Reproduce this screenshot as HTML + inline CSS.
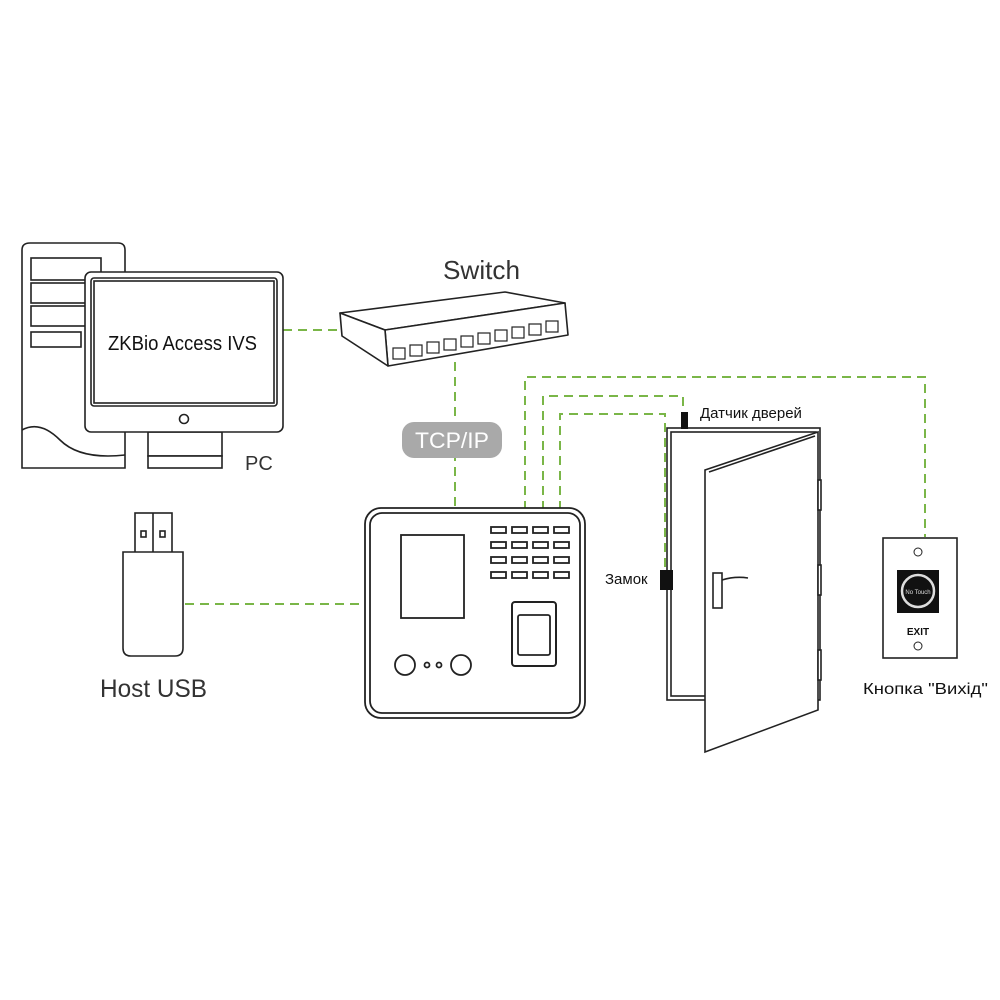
<!DOCTYPE html>
<html><head><meta charset="utf-8"><style>
html,body{margin:0;padding:0;background:#fff;}
svg{display:block;}
text{font-family:"Liberation Sans","DejaVu Sans",sans-serif;}
</style></head><body>
<svg width="1000" height="1000" viewBox="0 0 1000 1000" xmlns="http://www.w3.org/2000/svg">
<g fill="none" stroke="#7ab648" stroke-width="2" stroke-dasharray="9,6">
<path d="M283 330 H340"/>
<path d="M455 362 V510"/>
<path d="M185 604 H365"/>
<path d="M525 510 V377 H925 V537"/>
<path d="M543 510 V396 H683 V412"/>
<path d="M560 510 V414 H665 V570"/>
</g>
<!-- tower -->
<g fill="#fff" stroke="#222" stroke-width="1.6">
<path d="M22 468 V250 Q22 243 30 243 H118 Q125 243 125 250 V468 Z"/>
<rect x="31" y="258" width="70" height="22"/>
<rect x="31" y="283" width="70" height="20"/>
<rect x="31" y="306" width="70" height="20"/>
<rect x="31" y="332" width="50" height="15"/>
<path d="M22 430 Q40 420 60 440 Q80 460 125 455" />
</g>
<!-- monitor -->
<g fill="#fff" stroke="#222" stroke-width="1.6">
<rect x="148" y="432" width="74" height="24"/>
<rect x="148" y="456" width="74" height="12"/>
<rect x="85" y="272" width="198" height="160" rx="6"/>
<rect x="91" y="278" width="186" height="128" rx="3"/>
<rect x="94" y="281" width="180" height="122"/>
<circle cx="184" cy="419" r="4.5"/>
</g>
<text x="108" y="350" font-size="20" fill="#111" textLength="149" lengthAdjust="spacingAndGlyphs">ZKBio Access IVS</text>
<text x="245" y="470" font-size="20" fill="#333">PC</text>
<!-- switch -->
<text x="443" y="279" font-size="26" fill="#333" textLength="77" lengthAdjust="spacingAndGlyphs">Switch</text>
<g fill="#fff" stroke="#222" stroke-width="1.6" stroke-linejoin="round">
<path d="M340 313 L505 292 L565 303 L385 330 Z"/>
<path d="M385 330 L565 303 L568 335 L388 366 Z"/>
<path d="M340 313 L385 330 L388 366 L342 336 Z"/>
</g>
<g fill="#fff" stroke="#222" stroke-width="1.2">
<rect x="393" y="348" width="12" height="11"/>
<rect x="410" y="345" width="12" height="11"/>
<rect x="427" y="342" width="12" height="11"/>
<rect x="444" y="339" width="12" height="11"/>
<rect x="461" y="336" width="12" height="11"/>
<rect x="478" y="333" width="12" height="11"/>
<rect x="495" y="330" width="12" height="11"/>
<rect x="512" y="327" width="12" height="11"/>
<rect x="529" y="324" width="12" height="11"/>
<rect x="546" y="321" width="12" height="11"/>
</g>
<!-- TCP/IP -->
<rect x="402" y="422" width="100" height="36" rx="12" fill="#a9a9a9"/>
<text x="452" y="448" font-size="22" fill="#fff" text-anchor="middle" textLength="74" lengthAdjust="spacingAndGlyphs">TCP/IP</text>
<!-- USB -->
<g fill="#fff" stroke="#222" stroke-width="1.6">
<rect x="135" y="513" width="37" height="40"/>
<rect x="141" y="531" width="5" height="6"/>
<rect x="160" y="531" width="5" height="6"/>
<path d="M153 513 V553"/>
<path d="M123 552 H183 V648 Q183 656 175 656 H131 Q123 656 123 648 Z"/>
</g>
<text x="100" y="697" font-size="25" fill="#333" textLength="107" lengthAdjust="spacingAndGlyphs">Host USB</text>
<!-- device -->
<g fill="#fff" stroke="#222" stroke-width="1.8">
<rect x="365" y="508" width="220" height="210" rx="16"/>
<rect x="370" y="513" width="210" height="200" rx="12"/>
<rect x="401" y="535" width="63" height="83"/>
<rect x="512" y="602" width="44" height="64" rx="3" stroke-width="2"/>
<rect x="518" y="615" width="32" height="40" rx="2"/>
<circle cx="405" cy="665" r="10"/>
<circle cx="461" cy="665" r="10"/>
<circle cx="427" cy="665" r="2.5"/>
<circle cx="439" cy="665" r="2.5"/>
</g>
<g fill="#fff" stroke="#222" stroke-width="1.8">
<rect x="491" y="527" width="15" height="6"/><rect x="512" y="527" width="15" height="6"/><rect x="533" y="527" width="15" height="6"/><rect x="554" y="527" width="15" height="6"/>
<rect x="491" y="542" width="15" height="6"/><rect x="512" y="542" width="15" height="6"/><rect x="533" y="542" width="15" height="6"/><rect x="554" y="542" width="15" height="6"/>
<rect x="491" y="557" width="15" height="6"/><rect x="512" y="557" width="15" height="6"/><rect x="533" y="557" width="15" height="6"/><rect x="554" y="557" width="15" height="6"/>
<rect x="491" y="572" width="15" height="6"/><rect x="512" y="572" width="15" height="6"/><rect x="533" y="572" width="15" height="6"/><rect x="554" y="572" width="15" height="6"/>
</g>
<!-- door -->
<g fill="#fff" stroke="#222" stroke-width="1.6">
<rect x="667" y="428" width="153" height="272"/>
<rect x="671" y="432" width="145" height="264"/>
<path d="M705 470 L818 432 L818 710 L705 752 Z"/>
<path d="M709 472 L815 436"/>
<rect x="713" y="573" width="9" height="35"/>
<path d="M722 580 Q735 576 748 578"/>
<rect x="818" y="480" width="3" height="30"/><rect x="818" y="565" width="3" height="30"/><rect x="818" y="650" width="3" height="30"/>
</g>
<rect x="681" y="412" width="7" height="17" fill="#111"/>
<rect x="660" y="570" width="13" height="20" fill="#111"/>
<text x="700" y="418" font-size="15" fill="#111">Датчик дверей</text>
<text x="605" y="584" font-size="15" fill="#111">Замок</text>
<!-- exit button -->
<rect x="883" y="538" width="74" height="120" fill="#fff" stroke="#222" stroke-width="1.6"/>
<circle cx="918" cy="552" r="4" fill="#fff" stroke="#222"/>
<circle cx="918" cy="646" r="4" fill="#fff" stroke="#222"/>
<rect x="897" y="570" width="42" height="43" fill="#111"/>
<circle cx="918" cy="591" r="16" fill="#111" stroke="#ddd" stroke-width="2.5"/>
<text x="918" y="594" font-size="6" fill="#ddd" text-anchor="middle">No Touch</text>
<text x="918" y="635" font-size="10" font-weight="bold" fill="#111" text-anchor="middle">EXIT</text>
<text x="863" y="694" font-size="16" fill="#111" textLength="125" lengthAdjust="spacingAndGlyphs">Кнопка "Вихід"</text>
</svg>
</body></html>
